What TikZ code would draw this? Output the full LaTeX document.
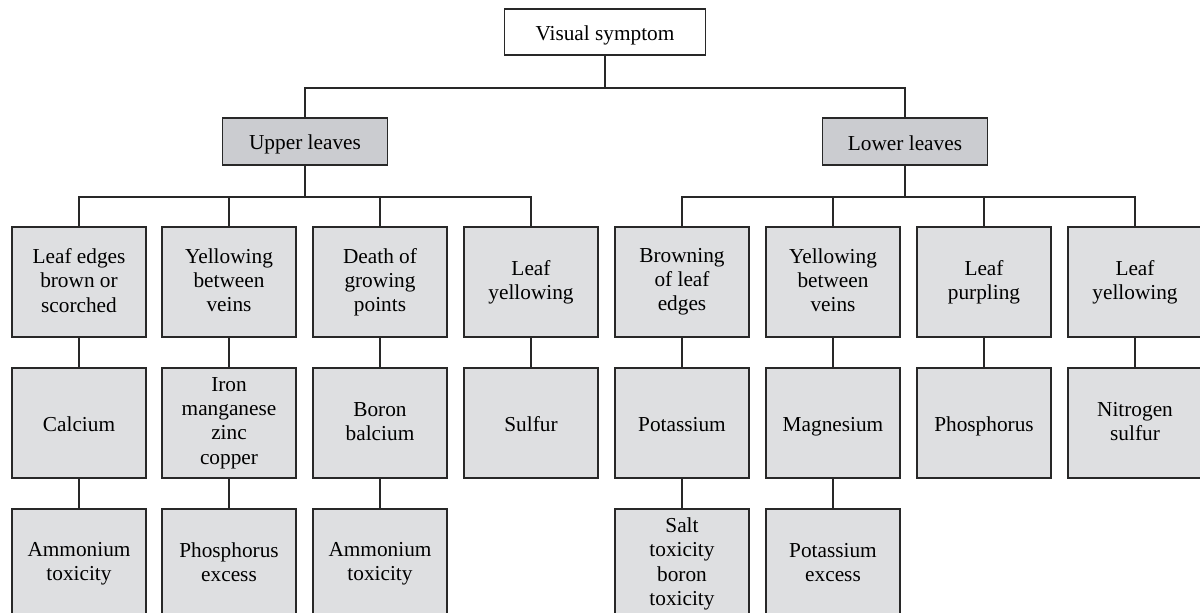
\documentclass[tikz,border=0pt]{standalone}
\usepackage{fontspec}
\setmainfont{Liberation Serif}
\definecolor{headgray}{RGB}{203,204,208}
\definecolor{boxgray}{RGB}{222,223,225}
\definecolor{linegray}{RGB}{40,40,40}
\newcommand\diafont{\fontsize{21.3}{24.2}\selectfont}
\newcommand\diastrut{\rule[-3.4pt]{0pt}{24.2pt}}
\begin{document}
\begin{tikzpicture}[x=1pt,y=-1pt,
  base/.style={draw=linegray, line width=1.4pt, inner sep=0pt, align=center, font=\diafont,
    execute at begin node=\diastrut, execute at end node=\diastrut},
  rootbox/.style={base, fill=white, minimum width=201pt, minimum height=46pt},
  headbox/.style={base, fill=headgray, minimum width=165pt, minimum height=47pt},
  leafbox/.style={base, fill=boxgray, minimum width=134pt, minimum height=110pt},
  conn/.style={draw=linegray, line width=1.4pt}]
\useasboundingbox (0,0) rectangle (1200,613);
% root and heads
\node[rootbox] (vs) at (605,32) {Visual symptom};
\node[headbox] (ul) at (305,141.5) {Upper leaves};
\node[headbox] (ll) at (905,141.5) {Lower leaves};
% row 1
\node[leafbox] (a1) at (79,282) {Leaf edges\\brown or\\scorched};
\node[leafbox] (a2) at (229,282) {Yellowing\\between\\veins};
\node[leafbox] (a3) at (380,282) {Death of\\growing\\points};
\node[leafbox] (a4) at (531,282) {Leaf\\yellowing};
\node[leafbox] (a5) at (682,282) {Browning\\of leaf\\edges};
\node[leafbox] (a6) at (833,282) {Yellowing\\between\\veins};
\node[leafbox] (a7) at (984,282) {Leaf\\purpling};
\node[leafbox] (a8) at (1135,282) {Leaf\\yellowing};
% row 2
\node[leafbox] (b1) at (79,423) {Calcium};
\node[leafbox] (b2) at (229,423) {Iron\\manganese\\zinc\\copper};
\node[leafbox] (b3) at (380,423) {Boron\\balcium};
\node[leafbox] (b4) at (531,423) {Sulfur};
\node[leafbox] (b5) at (682,423) {Potassium};
\node[leafbox] (b6) at (833,423) {Magnesium};
\node[leafbox] (b7) at (984,423) {Phosphorus};
\node[leafbox] (b8) at (1135,423) {Nitrogen\\sulfur};
% row 3
\node[leafbox] (c1) at (79,564) {Ammonium\\toxicity};
\node[leafbox] (c2) at (229,564) {Phosphorus\\excess};
\node[leafbox] (c3) at (380,564) {Ammonium\\toxicity};
\node[leafbox] (c5) at (682,564) {Salt\\toxicity\\boron\\toxicity};
\node[leafbox] (c6) at (833,564) {Potassium\\excess};
% bus coordinates
\coordinate (bus0) at (605,88);
\coordinate (busU) at (305,197);
\coordinate (busL) at (905,197);
% connectors
\draw[conn] (vs) -- (bus0);
\draw[conn] (ul) |- (bus0) -| (ll);
\draw[conn] (ul) -- (busU);
\draw[conn] (a1) |- (busU) -| (a4);
\draw[conn] (a2) -- (a2 |- busU);
\draw[conn] (a3) -- (a3 |- busU);
\draw[conn] (ll) -- (busL);
\draw[conn] (a5) |- (busL) -| (a8);
\draw[conn] (a6) -- (a6 |- busL);
\draw[conn] (a7) -- (a7 |- busL);
\foreach \i in {1,...,8} { \draw[conn] (a\i) -- (b\i); }
\foreach \i in {1,2,3,5,6} { \draw[conn] (b\i) -- (c\i); }
\end{tikzpicture}
\end{document}
